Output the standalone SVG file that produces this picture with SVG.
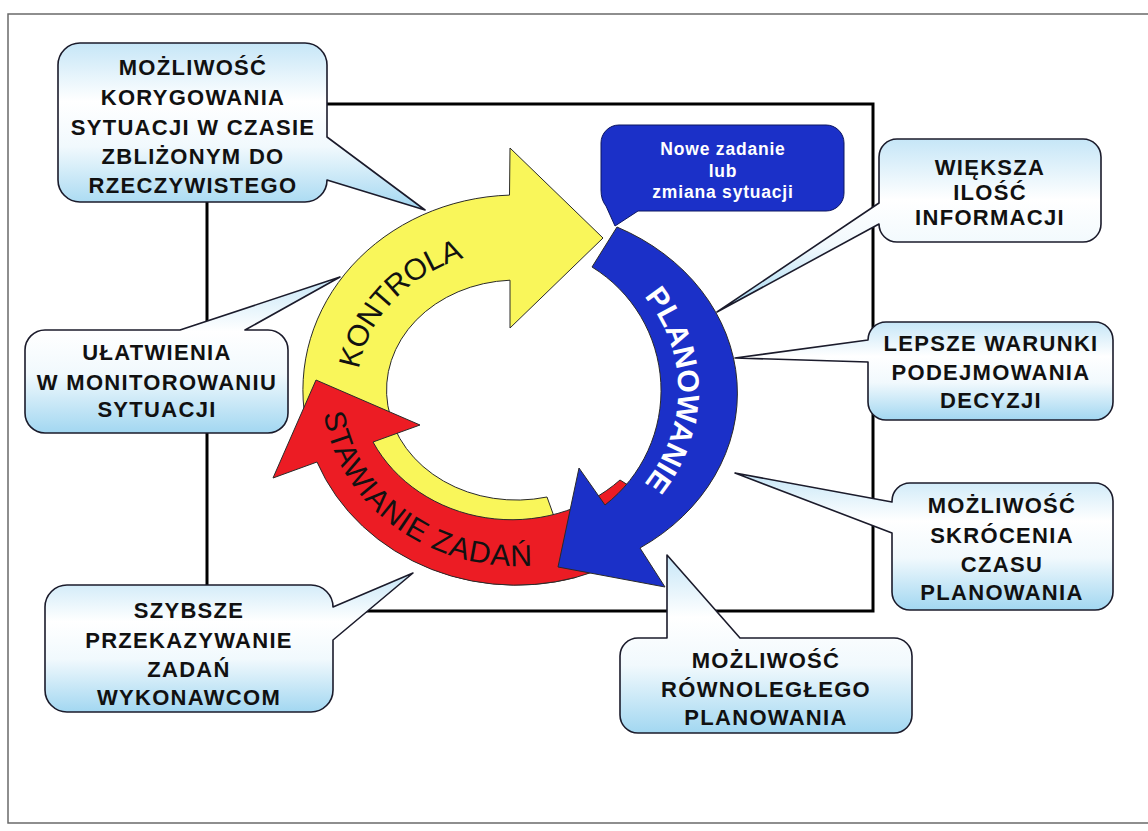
<svg xmlns="http://www.w3.org/2000/svg" width="1148" height="831" viewBox="0 0 1148 831">
<defs>
<linearGradient id="cg" x1="0" y1="0" x2="0" y2="1">
<stop offset="0" stop-color="#c6e6f7"/>
<stop offset="0.35" stop-color="#ffffff"/>
<stop offset="0.62" stop-color="#f1f9fd"/>
<stop offset="1" stop-color="#a2d7f1"/>
</linearGradient>
<path id="pK" d="M 390.9 476.2 A 160 140 0 0 1 576.9 260.2"/>
<path id="pP" d="M 546.5 237.4 A 172 157 0 0 1 546.5 542.6"/>
<path id="pS" d="M 333.8 329.8 A 195 176 0 0 0 614.5 542.4"/>
<style>
.call{fill:url(#cg);stroke:#1b1b2b;stroke-width:1.6;stroke-linejoin:round}
.ct{font-family:"Liberation Sans",Arial,sans-serif;font-weight:bold;font-size:22px;letter-spacing:1.3px;text-anchor:middle;fill:#111}
.ring{font-family:"Liberation Sans",Arial,sans-serif;font-size:30px;text-anchor:middle}
.arr{stroke:#2a2a2a;stroke-width:1;stroke-linejoin:miter}
.bt{font-family:"Liberation Sans",Arial,sans-serif;font-weight:bold;font-size:17.5px;letter-spacing:0.8px;text-anchor:middle;fill:#ffffff}
</style>
</defs>
<rect x="0" y="0" width="1148" height="831" fill="#ffffff"/>
<path d="M 1148 14 H 8 V 823 H 1148" fill="none" stroke="#6a6a6a" stroke-width="1.5"/>
<g id="connectors">
<rect x="207" y="104" width="666" height="507" fill="none" stroke="#000" stroke-width="3"/>
</g>
<g id="kontrola">
<path class="arr" fill="#f9f65a" d="M 547 497 L 576 577.4 A 214 195 0 1 1 509.5 195.1 L 510 148 L 603 238 L 510 328 L 510 280.2 A 130 110 0 1 0 547 497 Z"/>
<text class="ring" fill="#111" font-size="32" letter-spacing="-0.6"><textPath href="#pK" startOffset="50%">KONTROLA</textPath></text>
</g>
<g id="stawianie">
<path class="arr" fill="#ec1c24" d="M 620 480 L 652 500 L 596 571 A 214 195 0 0 1 317 462 L 273 478 L 316 380 L 420 425 L 373 442 A 155 140 0 0 0 620 480 Z"/>
<text class="ring" fill="#111" font-size="32" letter-spacing="0.8"><textPath href="#pS" startOffset="50%">STAWIANIE ZADAŃ</textPath></text>
</g>
<g id="planowanie">
<path class="arr" fill="#1b30c8" d="M 592 267 L 617 227 A 215 185 0 0 1 640 548 L 665 587 L 558 567 L 579 468 L 605 505 A 145 145 0 0 0 592 267 Z"/>
<text class="ring" fill="#fff" font-weight="bold" font-size="30"><textPath href="#pP" startOffset="50%">PLANOWANIE</textPath></text>
</g>
<g id="nowe-zadanie">
<path fill="#1b30c8" stroke="#0d1660" stroke-width="1" d="M 619 125 H 826 A 18 18 0 0 1 844 143 V 193 A 18 18 0 0 1 826 211 H 638 L 615 226 L 606 206 Q 601 200 601 190 V 143 A 18 18 0 0 1 619 125 Z"/>
<text class="bt" x="723" y="155">Nowe zadanie</text>
<text class="bt" x="723" y="177">lub</text>
<text class="bt" x="723" y="198">zmiana sytuacji</text>
</g>
<g id="korygowanie">
<path class="call" d="M 80 43 H 305 A 22 22 0 0 1 327 65 V 137 L 425 210 L 327 180 A 22 22 0 0 1 305 202 H 80 A 22 22 0 0 1 58 180 V 65 A 22 22 0 0 1 80 43 Z"/>
<text class="ct" x="193" y="75" font-size="23">MOŻLIWOŚĆ</text>
<text class="ct" x="193" y="105" font-size="23">KORYGOWANIA</text>
<text class="ct" x="193" y="135" font-size="23">SYTUACJI W CZASIE</text>
<text class="ct" x="193" y="164" font-size="23">ZBLIŻONYM DO</text>
<text class="ct" x="193" y="193" font-size="23">RZECZYWISTEGO</text>
</g>
<g id="wieksza">
<path class="call" d="M 897 139 H 1083 A 18 18 0 0 1 1101 157 V 224 A 18 18 0 0 1 1083 242 H 897 A 18 18 0 0 1 879 224 L 717 312 L 879 203 V 157 A 18 18 0 0 1 897 139 Z"/>
<text class="ct" x="990" y="175">WIĘKSZA</text>
<text class="ct" x="990" y="200">ILOŚĆ</text>
<text class="ct" x="990" y="225">INFORMACJI</text>
</g>
<g id="lepsze">
<path class="call" d="M 886 322 H 1095 A 18 18 0 0 1 1113 340 V 402 A 18 18 0 0 1 1095 420 H 886 A 18 18 0 0 1 868 402 V 362 L 735 358 L 868 340 A 18 18 0 0 1 886 322 Z"/>
<text class="ct" x="991" y="351">LEPSZE WARUNKI</text>
<text class="ct" x="991" y="380">PODEJMOWANIA</text>
<text class="ct" x="991" y="408">DECYZJI</text>
</g>
<g id="skrocenia">
<path class="call" d="M 910 483 H 1095 A 18 18 0 0 1 1113 501 V 592 A 18 18 0 0 1 1095 610 H 910 A 18 18 0 0 1 892 592 V 533 L 735 473 L 892 502 V 501 A 18 18 0 0 1 910 483 Z"/>
<text class="ct" x="1002" y="513">MOŻLIWOŚĆ</text>
<text class="ct" x="1002" y="543">SKRÓCENIA</text>
<text class="ct" x="1002" y="572">CZASU</text>
<text class="ct" x="1002" y="600">PLANOWANIA</text>
</g>
<g id="rownoleglego">
<path class="call" d="M 638 638 H 667 L 667 555 L 740 638 H 894 A 18 18 0 0 1 912 656 V 715 A 18 18 0 0 1 894 733 H 638 A 18 18 0 0 1 620 715 V 656 A 18 18 0 0 1 638 638 Z"/>
<text class="ct" x="766" y="668">MOŻLIWOŚĆ</text>
<text class="ct" x="766" y="697">RÓWNOLEGŁEGO</text>
<text class="ct" x="766" y="725">PLANOWANIA</text>
</g>
<g id="szybsze">
<path class="call" d="M 67 585 H 311 A 22 22 0 0 1 333 607 L 413 573 L 333 640 V 690 A 22 22 0 0 1 311 712 H 67 A 22 22 0 0 1 45 690 V 607 A 22 22 0 0 1 67 585 Z"/>
<text class="ct" x="189" y="618">SZYBSZE</text>
<text class="ct" x="189" y="648">PRZEKAZYWANIE</text>
<text class="ct" x="189" y="677">ZADAŃ</text>
<text class="ct" x="189" y="705">WYKONAWCOM</text>
</g>
<g id="ulatwienia">
<path class="call" d="M 45 330 H 180 L 340 277 L 245 330 H 268 A 20 20 0 0 1 288 350 V 413 A 20 20 0 0 1 268 433 H 45 A 20 20 0 0 1 25 413 V 350 A 20 20 0 0 1 45 330 Z"/>
<text class="ct" x="157" y="360">UŁATWIENIA</text>
<text class="ct" x="157" y="390">W MONITOROWANIU</text>
<text class="ct" x="157" y="417">SYTUACJI</text>
</g>
</svg>
